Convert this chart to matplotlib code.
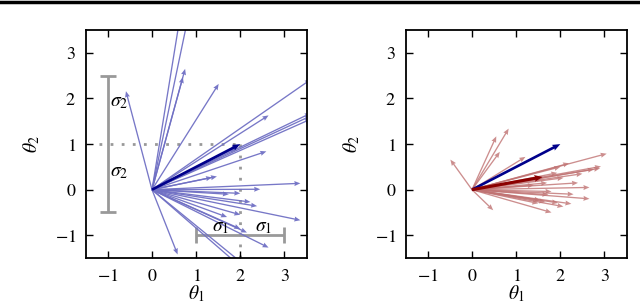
import numpy as np
import matplotlib
matplotlib.use("Agg")
import matplotlib.pyplot as plt
from matplotlib.lines import Line2D

plt.rcParams['font.family'] = 'serif'
plt.rcParams['font.serif'] = ['Liberation Serif', 'DejaVu Serif']
plt.rcParams['mathtext.fontset'] = 'stix'

# ---- data ----
true_theta = (2.0, 1.0)
sigma1 = 1.0
sigma2 = 1.5

# left panel: individual gradient samples (u, v)
left_u = [0.62, 0.80, 0.75, 0.70, 1.51, -0.59, 0.58,
          3.60, 2.64, 3.60, 3.60, 3.60, 2.59, 1.95, 1.90, 1.47, 1.36,
          3.36, 2.45, 1.74, 2.00, 2.23, 2.38, 3.36, 2.00, 2.15, 2.64, 2.05, 1.90, 2.00, 1.70]
left_v = [3.70, 3.70, 2.65, 2.47, 2.32, 2.16, -1.42,
          2.42, 1.63, 1.68, 1.62, 1.55, 0.84, 0.97, 0.92, 0.29, 0.27,
          0.14, 0.01, -0.10, -0.08, -0.27, -0.36, -0.67, -0.55, -0.94, -1.27, -1.62, -1.60, -0.86, -0.60]

# right panel: individual samples (u, v)
right_u = [-0.49, 0.48, 0.55, 0.83, 0.63, 1.21, 3.05, 2.92, 2.90, 2.20, 1.93, 2.07,
           2.66, 2.66, 2.07, 1.80, 1.95, 1.73, 1.80, 1.66, 2.76, 2.00, 1.60, 2.30,
           1.50, 2.40, 1.70, 2.50, 1.40, 2.25, 1.55]
right_v = [0.66, -0.45, 1.17, 1.34, 0.83, 0.72, 0.79, 0.51, 0.47, 0.58, 0.37, 0.26,
           0.05, -0.20, -0.37, -0.50, -0.29, -0.11, -0.04, -0.27, 0.45, 0.50, 0.25, -0.10,
           -0.30, 0.15, 0.15, 0.35, 0.10, -0.31, -0.23]
right_mean = (1.60, 0.28)

xticks = [-1, 0, 1, 2, 3]
yticks = [-1, 0, 1, 2, 3]
ticklabels = ['$-1$', '$0$', '$1$', '$2$', '$3$']

light_blue = '#7070c4'
dark_blue = '#00008b'
light_red = '#c07272'
dark_red = '#8b0000'
gray = '#999999'

fig = plt.figure(figsize=(6.4, 3.04), dpi=100)
ax1 = fig.add_axes([0.134, 0.151, 0.345, 0.75])
ax2 = fig.add_axes([0.634, 0.151, 0.345, 0.75])

def style(ax):
    ax.set_xlim(-1.5, 3.5)
    ax.set_ylim(-1.5, 3.5)
    ax.set_xticks(xticks)
    ax.set_yticks(yticks)
    ax.set_xticklabels(ticklabels)
    ax.set_yticklabels(ticklabels)
    ax.tick_params(direction='in', top=True, right=True, length=5, width=1,
                   labelsize=13, pad=7)
    for s in ax.spines.values():
        s.set_linewidth(1.3)
    ax.set_xlabel(r'$\theta_1$', fontsize=14, labelpad=-1)
    ax.set_ylabel(r'$\theta_2$', fontsize=14, labelpad=9)

def arrows(ax, u, v, color, width=0.006, hw=3.8, hl=4.6, hal=4.2, z=2, alpha=1.0):
    n = len(u)
    ax.quiver(np.zeros(n), np.zeros(n), u, v, angles='xy', scale_units='xy', scale=1,
              color=color, width=width, headwidth=hw, headlength=hl, headaxislength=hal,
              zorder=z, alpha=alpha)

# ---- left panel ----
style(ax1)
arrows(ax1, left_u, left_v, light_blue, alpha=0.95)
arrows(ax1, [true_theta[0]], [true_theta[1]], dark_blue, width=0.012, hw=2.4, hl=3.0, hal=2.7, z=3)
# dotted guides
ax1.plot([-1.2, true_theta[0]], [1, 1], ls=(0, (1, 3)), color=gray, lw=2, zorder=1)
ax1.plot([true_theta[0], true_theta[0]], [1, -1.5], ls=(0, (1, 3)), color=gray, lw=2, zorder=1)
# error bars
ax1.errorbar([-1], [true_theta[1]], yerr=[sigma2], color=gray, lw=2, capsize=6, capthick=2, zorder=1)
ax1.errorbar([true_theta[0]], [-1], xerr=[sigma1], color=gray, lw=2, capsize=6, capthick=2, zorder=1)
ax1.text(-0.74, 1.92, r'$\sigma_2$', fontsize=14, ha='center', va='center')
ax1.text(-0.74, 0.38, r'$\sigma_2$', fontsize=14, ha='center', va='center')
ax1.text(1.55, -0.82, r'$\sigma_1$', fontsize=14, ha='center', va='center')
ax1.text(2.52, -0.82, r'$\sigma_1$', fontsize=14, ha='center', va='center')

# ---- right panel ----
style(ax2)
arrows(ax2, right_u, right_v, light_red, alpha=0.8)
arrows(ax2, [true_theta[0]], [true_theta[1]], dark_blue, width=0.012, hw=2.4, hl=3.0, hal=2.7, z=3)
arrows(ax2, [right_mean[0]], [right_mean[1]], dark_red, width=0.014, hw=2.2, hl=2.7, hal=2.4, z=3)

# top rule
fig.add_artist(Line2D([0, 1], [0.995, 0.995], transform=fig.transFigure, color='black', lw=2.5))

fig.savefig('out.png', dpi=100)
